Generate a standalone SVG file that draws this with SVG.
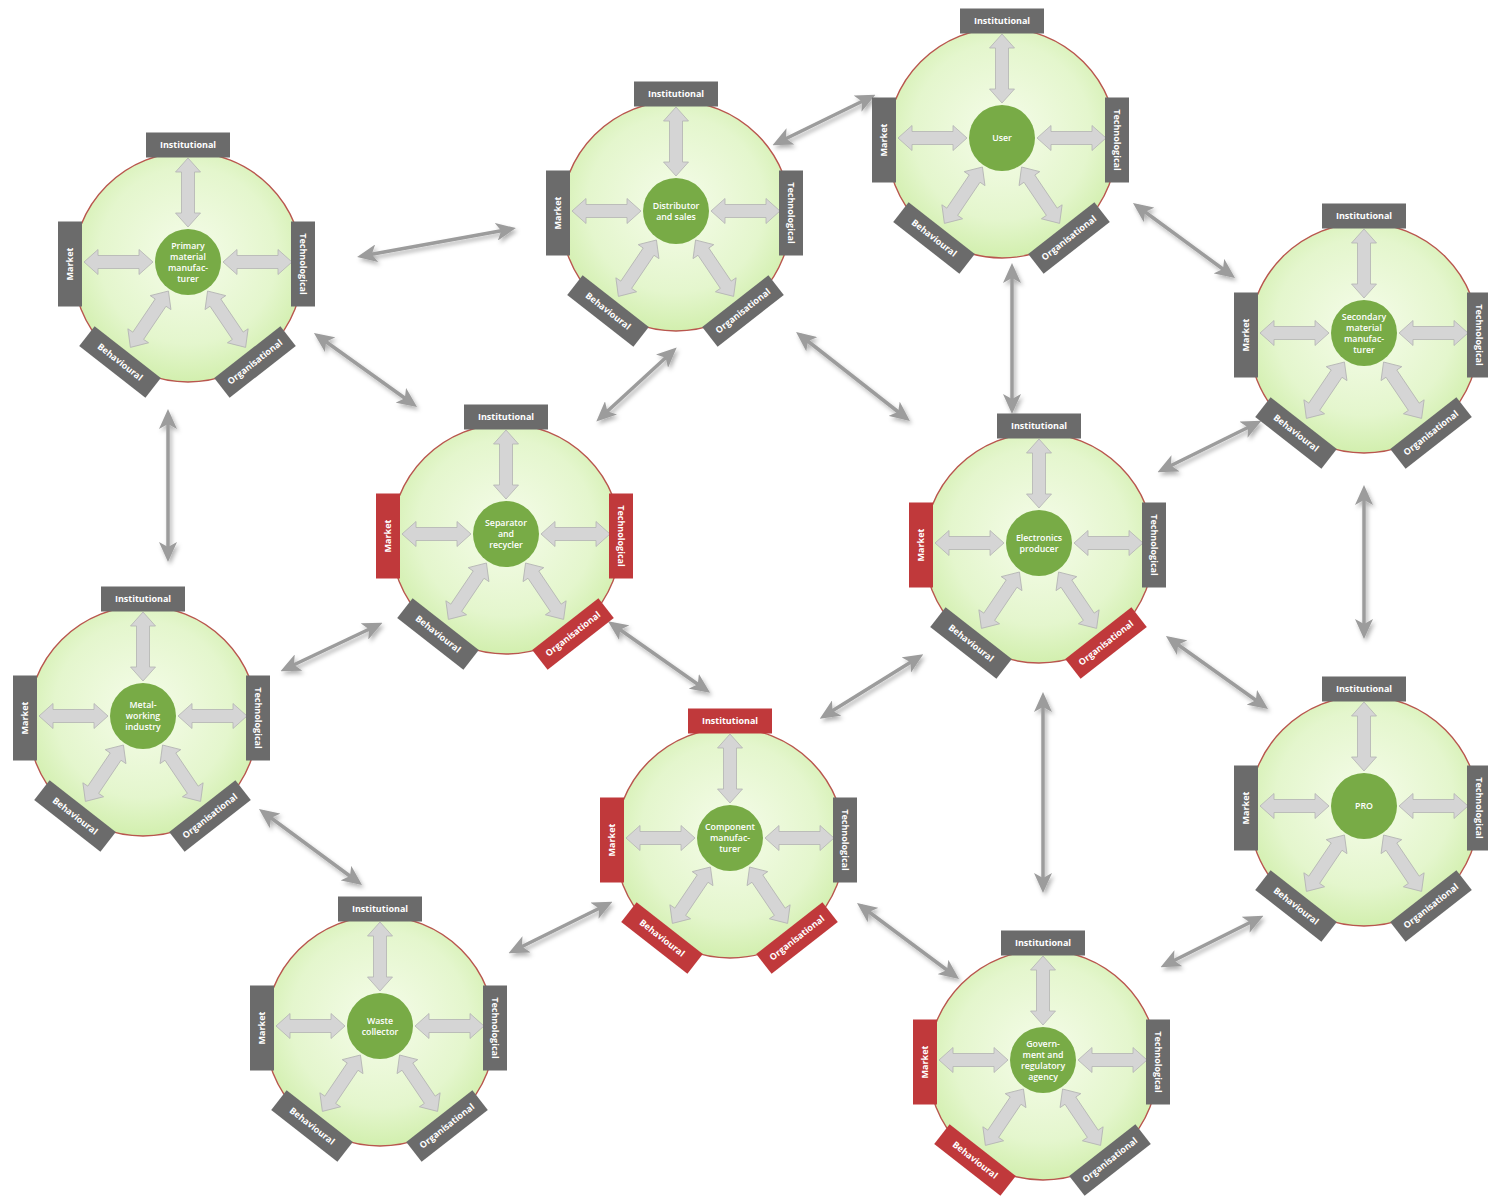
<svg xmlns="http://www.w3.org/2000/svg" xmlns:xlink="http://www.w3.org/1999/xlink" width="1488" height="1197" viewBox="0 0 1488 1197">
<defs>
<radialGradient id="bg" cx="50%" cy="45%" r="55%">
<stop offset="0" stop-color="#f5fce9"/>
<stop offset="0.7" stop-color="#e4f6cd"/>
<stop offset="1" stop-color="#d2efae"/>
</radialGradient>
<filter id="sh" x="-20%" y="-20%" width="140%" height="140%">
<feDropShadow dx="2" dy="3" stdDeviation="2" flood-color="#000" flood-opacity="0.3"/>
</filter>
<marker id="ah" viewBox="0 0 20 18" refX="15" refY="9" markerWidth="20" markerHeight="18" markerUnits="userSpaceOnUse" orient="auto-start-reverse">
<path d="M0,0 L20,9 L0,18 L5,9 Z" fill="#9c9c9c"/>
</marker>
<path id="arL" d="M35,0 L49,-12.5 L49,-6.5 L90,-6.5 L90,-12.5 L104,0 L90,12.5 L90,6.5 L49,6.5 L49,12.5 Z"/>
<path id="arS" d="M35,0 L49,-12.5 L49,-6.5 L89,-6.5 L89,-12.5 L103,0 L89,12.5 L89,6.5 L49,6.5 L49,12.5 Z"/>
<g id="base">
<circle cx="0" cy="5" r="115" fill="url(#bg)" stroke="#b9564e" stroke-width="1.4"/>
<g fill="#d5d5d5" stroke="#b3b3b3" stroke-width="0.8">
<use href="#arL" transform="rotate(-90)"/>
<use href="#arL" transform="rotate(180)"/>
<use href="#arL" transform="rotate(0)"/>
<use href="#arS" transform="rotate(124)"/>
<use href="#arS" transform="rotate(56)"/>
</g>
<circle cx="0" cy="0" r="33" fill="#78ab46"/>
</g>
<rect id="bh" x="-42" y="-12.5" width="84" height="25"/>
<rect id="bv" x="-42.5" y="-12" width="85" height="24"/>
</defs>
<style>
.box.g{fill:#6b6b6b}
.box.r{fill:#c0393b}
.box text{fill:#fff;font-family:"Open Sans","Liberation Sans",sans-serif;font-weight:700;font-size:9px;text-anchor:middle}
.lbl{fill:#fff;font-family:"Open Sans","Liberation Sans",sans-serif;font-weight:600;font-size:8.8px;text-anchor:middle}
.conn line{stroke:#9c9c9c;stroke-width:3.5;marker-start:url(#ah);marker-end:url(#ah)}
</style>
<rect width="1488" height="1197" fill="#fff"/>

<g id="connectors" class="conn" filter="url(#sh)">
<line x1="362" y1="256" x2="511" y2="229"/>
<line x1="318" y1="336" x2="413" y2="404"/>
<line x1="168" y1="414" x2="168" y2="557"/>
<line x1="777" y1="143" x2="871" y2="97"/>
<line x1="673" y1="351" x2="600" y2="418"/>
<line x1="800" y1="335" x2="906" y2="418"/>
<line x1="1012" y1="268" x2="1012" y2="409"/>
<line x1="1137" y1="206" x2="1231" y2="275"/>
<line x1="1162" y1="470" x2="1257" y2="423"/>
<line x1="1364" y1="490" x2="1364" y2="634"/>
<line x1="285" y1="669" x2="378" y2="625"/>
<line x1="612" y1="624" x2="706" y2="690"/>
<line x1="824" y1="716" x2="919" y2="657"/>
<line x1="1170" y1="639" x2="1264" y2="706"/>
<line x1="1043" y1="697" x2="1043" y2="888"/>
<line x1="263" y1="812" x2="358" y2="882"/>
<line x1="513" y1="951" x2="608" y2="904"/>
<line x1="861" y1="906" x2="955" y2="976"/>
<line x1="1165" y1="965" x2="1259" y2="918"/>
</g>

<g id="n-primary" transform="translate(188,262)">
<use href="#base"/>
<g class="box g" transform="translate(0,-117)"><use href="#bh"/><text y="3">Institutional</text></g>
<g class="box g" transform="translate(-118,2) rotate(-90)"><use href="#bv"/><text y="3">Market</text></g>
<g class="box g" transform="translate(115,2) rotate(90)"><use href="#bv"/><text y="3">Technological</text></g>
<g class="box g" transform="translate(-68,100) rotate(38)"><use href="#bh"/><text y="3">Behavioural</text></g>
<g class="box g" transform="translate(67,100) rotate(-38)"><use href="#bh"/><text y="3">Organisational</text></g>
<text class="lbl"><tspan x="0" y="-13.5">Primary</tspan><tspan x="0" y="-2.5">material</tspan><tspan x="0" y="8.5">manufac-</tspan><tspan x="0" y="19.5">turer</tspan></text>
</g>

<g id="n-distributor" transform="translate(676,211)">
<use href="#base"/>
<g class="box g" transform="translate(0,-117)"><use href="#bh"/><text y="3">Institutional</text></g>
<g class="box g" transform="translate(-118,2) rotate(-90)"><use href="#bv"/><text y="3">Market</text></g>
<g class="box g" transform="translate(115,2) rotate(90)"><use href="#bv"/><text y="3">Technological</text></g>
<g class="box g" transform="translate(-68,100) rotate(38)"><use href="#bh"/><text y="3">Behavioural</text></g>
<g class="box g" transform="translate(67,100) rotate(-38)"><use href="#bh"/><text y="3">Organisational</text></g>
<text class="lbl"><tspan x="0" y="-2.5">Distributor</tspan><tspan x="0" y="8.5">and sales</tspan></text>
</g>

<g id="n-user" transform="translate(1002,138)">
<use href="#base"/>
<g class="box g" transform="translate(0,-117)"><use href="#bh"/><text y="3">Institutional</text></g>
<g class="box g" transform="translate(-118,2) rotate(-90)"><use href="#bv"/><text y="3">Market</text></g>
<g class="box g" transform="translate(115,2) rotate(90)"><use href="#bv"/><text y="3">Technological</text></g>
<g class="box g" transform="translate(-68,100) rotate(38)"><use href="#bh"/><text y="3">Behavioural</text></g>
<g class="box g" transform="translate(67,100) rotate(-38)"><use href="#bh"/><text y="3">Organisational</text></g>
<text class="lbl"><tspan x="0" y="3">User</tspan></text>
</g>

<g id="n-secondary" transform="translate(1364,333)">
<use href="#base"/>
<g class="box g" transform="translate(0,-117)"><use href="#bh"/><text y="3">Institutional</text></g>
<g class="box g" transform="translate(-118,2) rotate(-90)"><use href="#bv"/><text y="3">Market</text></g>
<g class="box g" transform="translate(115,2) rotate(90)"><use href="#bv"/><text y="3">Technological</text></g>
<g class="box g" transform="translate(-68,100) rotate(38)"><use href="#bh"/><text y="3">Behavioural</text></g>
<g class="box g" transform="translate(67,100) rotate(-38)"><use href="#bh"/><text y="3">Organisational</text></g>
<text class="lbl"><tspan x="0" y="-13.5">Secondary</tspan><tspan x="0" y="-2.5">material</tspan><tspan x="0" y="8.5">manufac-</tspan><tspan x="0" y="19.5">turer</tspan></text>
</g>

<g id="n-separator" transform="translate(506,534)">
<use href="#base"/>
<g class="box g" transform="translate(0,-117)"><use href="#bh"/><text y="3">Institutional</text></g>
<g class="box r" transform="translate(-118,2) rotate(-90)"><use href="#bv"/><text y="3">Market</text></g>
<g class="box r" transform="translate(115,2) rotate(90)"><use href="#bv"/><text y="3">Technological</text></g>
<g class="box g" transform="translate(-68,100) rotate(38)"><use href="#bh"/><text y="3">Behavioural</text></g>
<g class="box r" transform="translate(67,100) rotate(-38)"><use href="#bh"/><text y="3">Organisational</text></g>
<text class="lbl"><tspan x="0" y="-8">Separator</tspan><tspan x="0" y="3">and</tspan><tspan x="0" y="14">recycler</tspan></text>
</g>

<g id="n-electronics" transform="translate(1039,543)">
<use href="#base"/>
<g class="box g" transform="translate(0,-117)"><use href="#bh"/><text y="3">Institutional</text></g>
<g class="box r" transform="translate(-118,2) rotate(-90)"><use href="#bv"/><text y="3">Market</text></g>
<g class="box g" transform="translate(115,2) rotate(90)"><use href="#bv"/><text y="3">Technological</text></g>
<g class="box g" transform="translate(-68,100) rotate(38)"><use href="#bh"/><text y="3">Behavioural</text></g>
<g class="box r" transform="translate(67,100) rotate(-38)"><use href="#bh"/><text y="3">Organisational</text></g>
<text class="lbl"><tspan x="0" y="-2.5">Electronics</tspan><tspan x="0" y="8.5">producer</tspan></text>
</g>

<g id="n-metal" transform="translate(143,716)">
<use href="#base"/>
<g class="box g" transform="translate(0,-117)"><use href="#bh"/><text y="3">Institutional</text></g>
<g class="box g" transform="translate(-118,2) rotate(-90)"><use href="#bv"/><text y="3">Market</text></g>
<g class="box g" transform="translate(115,2) rotate(90)"><use href="#bv"/><text y="3">Technological</text></g>
<g class="box g" transform="translate(-68,100) rotate(38)"><use href="#bh"/><text y="3">Behavioural</text></g>
<g class="box g" transform="translate(67,100) rotate(-38)"><use href="#bh"/><text y="3">Organisational</text></g>
<text class="lbl"><tspan x="0" y="-8">Metal-</tspan><tspan x="0" y="3">working</tspan><tspan x="0" y="14">industry</tspan></text>
</g>

<g id="n-component" transform="translate(730,838)">
<use href="#base"/>
<g class="box r" transform="translate(0,-117)"><use href="#bh"/><text y="3">Institutional</text></g>
<g class="box r" transform="translate(-118,2) rotate(-90)"><use href="#bv"/><text y="3">Market</text></g>
<g class="box g" transform="translate(115,2) rotate(90)"><use href="#bv"/><text y="3">Technological</text></g>
<g class="box r" transform="translate(-68,100) rotate(38)"><use href="#bh"/><text y="3">Behavioural</text></g>
<g class="box r" transform="translate(67,100) rotate(-38)"><use href="#bh"/><text y="3">Organisational</text></g>
<text class="lbl"><tspan x="0" y="-8">Component</tspan><tspan x="0" y="3">manufac-</tspan><tspan x="0" y="14">turer</tspan></text>
</g>

<g id="n-pro" transform="translate(1364,806)">
<use href="#base"/>
<g class="box g" transform="translate(0,-117)"><use href="#bh"/><text y="3">Institutional</text></g>
<g class="box g" transform="translate(-118,2) rotate(-90)"><use href="#bv"/><text y="3">Market</text></g>
<g class="box g" transform="translate(115,2) rotate(90)"><use href="#bv"/><text y="3">Technological</text></g>
<g class="box g" transform="translate(-68,100) rotate(38)"><use href="#bh"/><text y="3">Behavioural</text></g>
<g class="box g" transform="translate(67,100) rotate(-38)"><use href="#bh"/><text y="3">Organisational</text></g>
<text class="lbl"><tspan x="0" y="3">PRO</tspan></text>
</g>

<g id="n-waste" transform="translate(380,1026)">
<use href="#base"/>
<g class="box g" transform="translate(0,-117)"><use href="#bh"/><text y="3">Institutional</text></g>
<g class="box g" transform="translate(-118,2) rotate(-90)"><use href="#bv"/><text y="3">Market</text></g>
<g class="box g" transform="translate(115,2) rotate(90)"><use href="#bv"/><text y="3">Technological</text></g>
<g class="box g" transform="translate(-68,100) rotate(38)"><use href="#bh"/><text y="3">Behavioural</text></g>
<g class="box g" transform="translate(67,100) rotate(-38)"><use href="#bh"/><text y="3">Organisational</text></g>
<text class="lbl"><tspan x="0" y="-2.5">Waste</tspan><tspan x="0" y="8.5">collector</tspan></text>
</g>

<g id="n-government" transform="translate(1043,1060)">
<use href="#base"/>
<g class="box g" transform="translate(0,-117)"><use href="#bh"/><text y="3">Institutional</text></g>
<g class="box r" transform="translate(-118,2) rotate(-90)"><use href="#bv"/><text y="3">Market</text></g>
<g class="box g" transform="translate(115,2) rotate(90)"><use href="#bv"/><text y="3">Technological</text></g>
<g class="box r" transform="translate(-68,100) rotate(38)"><use href="#bh"/><text y="3">Behavioural</text></g>
<g class="box g" transform="translate(67,100) rotate(-38)"><use href="#bh"/><text y="3">Organisational</text></g>
<text class="lbl"><tspan x="0" y="-13.5">Govern-</tspan><tspan x="0" y="-2.5">ment and</tspan><tspan x="0" y="8.5">regulatory</tspan><tspan x="0" y="19.5">agency</tspan></text>
</g>
</svg>
